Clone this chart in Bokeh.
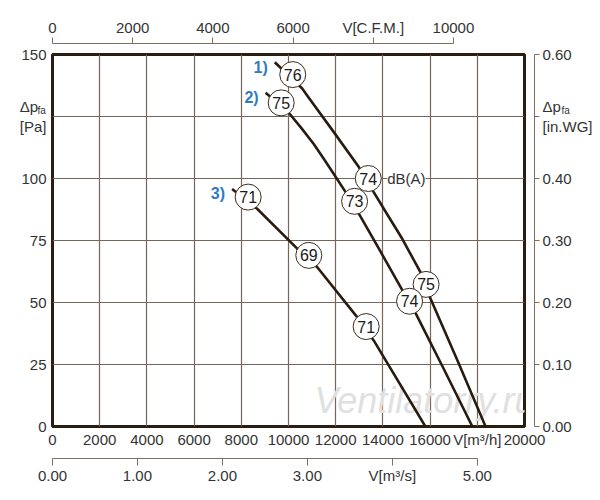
from bokeh.plotting import figure
from bokeh.models import LinearAxis, Range1d, FixedTicker, PrintfTickFormatter, Label
from bokeh.core.properties import value
from bokeh.embed import file_html
from bokeh.resources import INLINE

# ---------------- data ----------------
flow_ticks = [0, 2000, 4000, 6000, 8000, 10000, 12000, 14000, 16000, 18000, 20000]
pa_ticks = [0, 25, 50, 75, 100, 125, 150]
cfm_ticks = [0, 2000, 4000, 6000, 8000, 10000]
m3s_ticks = [0, 1, 2, 3, 4, 5]
inwg_ticks = [0.0, 0.1, 0.2, 0.3, 0.4, 0.5, 0.6]

# fan curves: flow [m3/h] vs static pressure [Pa]
curve1_q = [9420, 10580, 10790, 11920, 12980, 13610, 14200, 14820, 15590, 16020, 17160, 18350]
curve1_p = [146.9, 136.3, 133.5, 118.7, 104.6, 94.5, 85.3, 75.7, 62.2, 51.5, 26.6, 0.0]
curve2_q = [9030, 10010, 10530, 11070, 11500, 11920, 12420, 12980, 13860, 14750, 15380, 16570, 17790]
curve2_p = [134.6, 126.5, 120.5, 113.9, 107.9, 101.8, 94.5, 85.8, 71.2, 56.2, 45.8, 23.4, 0.0]
curve3_q = [7610, 8670, 10370, 11220, 12910, 13610, 15800]
curve3_p = [95.8, 87.8, 71.7, 64.2, 44.1, 34.7, 0.0]

# noise levels dB(A) marked on the curves
curve1_db_q = [10180, 13380, 15830]
curve1_db_p = [141.9, 100.0, 57.3]
curve1_db = ["76", "74", "75"]
curve2_db_q = [9690, 12800, 15130]
curve2_db_p = [130.5, 90.8, 50.5]
curve2_db = ["75", "73", "74"]
curve3_db_q = [8290, 10860, 13290]
curve3_db_p = [92.5, 69.0, 40.3]
curve3_db = ["71", "69", "71"]

curve_tags = ["1)", "2)", "3)"]

# ---------------- style ----------------
FONT = "Liberation Sans"
FRAME = "#2b1d10"
CURVE = "#2a1b0f"
GRID = "#74665a"
AXIS = "#7d6f62"
TEXT = "#333333"
BLUE = "#2e7bc4"

p = figure(width=596, height=492,
           x_range=Range1d(0, 20000), y_range=Range1d(0, 150),
           output_backend="svg", toolbar_location=None,
           min_border_left=52, min_border_right=72,
           min_border_top=54, min_border_bottom=66,
           background_fill_color="white", border_fill_color="white",
           outline_line_color=FRAME, outline_line_width=3)
p.title.visible = False

p.extra_x_ranges = {"cfm": Range1d(0, 20000 / 1.699),
                    "m3s": Range1d(0, 20000 / 3600)}
p.extra_y_ranges = {"inwg": Range1d(0, 0.6)}


def style_axis(ax, size="15px"):
    ax.major_label_text_font = FONT
    ax.major_label_text_font_size = size
    ax.major_label_text_color = TEXT
    ax.axis_line_color = AXIS
    ax.major_tick_line_color = AXIS
    ax.minor_tick_line_color = None
    ax.minor_tick_in = 0
    ax.minor_tick_out = 0
    ax.major_tick_in = 0


def spacer(size, tick, **kw):
    # invisible axis that only reserves `size` pixels between frame and next axis
    ax = LinearAxis(ticker=FixedTicker(ticks=[tick]), **kw)
    ax.axis_line_color = None
    ax.major_tick_line_color = None
    ax.minor_tick_line_color = None
    ax.major_tick_in = 0
    ax.major_tick_out = size
    ax.minor_tick_in = 0
    ax.minor_tick_out = 0
    ax.major_label_standoff = 0
    ax.major_label_text_font_size = "0px"
    ax.major_label_overrides = {tick: ""}
    return ax


# main bottom axis (m3/h)
xa = p.xaxis[0]
xa.ticker = FixedTicker(ticks=flow_ticks)
style_axis(xa)
xa.axis_line_color = None
xa.major_tick_out = 0
xa.major_label_standoff = 4
xa.major_label_overrides = {18000: "V[m³/h]"}

# main left axis (Pa)
ya = p.yaxis[0]
ya.ticker = FixedTicker(ticks=pa_ticks)
style_axis(ya)
ya.axis_line_color = None
ya.major_tick_out = 0
ya.major_label_standoff = 6
ya.major_label_overrides = {125: "Δp  \n[Pa]"}

p.xgrid[0].ticker = FixedTicker(ticks=flow_ticks)
p.ygrid[0].ticker = FixedTicker(ticks=pa_ticks)
p.xgrid.grid_line_color = GRID
p.ygrid.grid_line_color = GRID
p.xgrid.grid_line_width = 1.2
p.ygrid.grid_line_width = 1.2

# top axis (CFM)
p.add_layout(spacer(11, 10000), "above")
cfm_axis = LinearAxis(x_range_name="cfm", ticker=FixedTicker(ticks=cfm_ticks),
                      bounds=(0, 10000))
style_axis(cfm_axis)
cfm_axis.major_tick_out = 6
cfm_axis.major_label_standoff = 2
cfm_axis.major_label_overrides = {8000: "V[C.F.M.]"}
p.add_layout(cfm_axis, "above")

# second bottom axis (m3/s)
p.add_layout(spacer(8, 10000), "below")
m3s_axis = LinearAxis(x_range_name="m3s", ticker=FixedTicker(ticks=m3s_ticks),
                      bounds=(0, 5), formatter=PrintfTickFormatter(format="%.2f"))
style_axis(m3s_axis)
m3s_axis.major_tick_out = 7
m3s_axis.major_label_standoff = 1
m3s_axis.major_label_overrides = {4: "V[m³/s]"}
p.add_layout(m3s_axis, "below")

# right axis (in.WG)
p.add_layout(spacer(10, 75), "right")
inwg_axis = LinearAxis(y_range_name="inwg", ticker=FixedTicker(ticks=inwg_ticks),
                       bounds=(0, 0.6), formatter=PrintfTickFormatter(format="%.2f"))
style_axis(inwg_axis)
inwg_axis.major_tick_out = 5
inwg_axis.major_label_standoff = 3
inwg_axis.major_label_overrides = {0.5: "Δp\n[in.WG]"}
p.add_layout(inwg_axis, "right")

# watermark
p.text(x=[11100], y=[10.5], text=["Ventilatorry.ru"], text_font=value(FONT),
       text_font_style="italic", text_font_size="36px", text_color="#e0e0e0",
       text_align="left", text_baseline="alphabetic")

# curves
for q, pr in [(curve1_q, curve1_p), (curve2_q, curve2_p), (curve3_q, curve3_p)]:
    p.line(q, pr, line_color=CURVE, line_width=2.6, line_join="round")

# noise level circles
for q, pr, db in [(curve1_db_q, curve1_db_p, curve1_db),
                  (curve2_db_q, curve2_db_p, curve2_db),
                  (curve3_db_q, curve3_db_p, curve3_db)]:
    p.scatter(q, pr, marker="circle", size=26, fill_color="white",
              line_color="#3b2b1b", line_width=1)
    p.text(q, pr, text=db, text_font=value(FONT), text_font_size="16px",
           text_color="#1a1a1a", text_align="center", text_baseline="middle")

# curve tags
p.text([curve1_q[0], curve2_q[0], curve3_q[0]],
       [curve1_p[0], curve2_p[0], curve3_p[0]],
       text=curve_tags, text_font=value(FONT), text_font_style="bold",
       text_font_size="16px", text_color=BLUE, text_align="right",
       text_baseline="middle", x_offset=-7, y_offset=5)

# dB(A) label next to second circle of curve 1
p.add_layout(Label(x=curve1_db_q[1], y=curve1_db_p[1], text="dB(A)",
                   x_offset=19, text_font=FONT, text_font_size="15px",
                   text_color=TEXT, text_align="left", text_baseline="middle",
                   background_fill_color="white"))

# subscripts "fa" of the axis titles
p.add_layout(Label(x=0, y=125, text="fa", x_offset=-15, y_offset=6,
                   text_font=FONT, text_font_size="10px", text_color=TEXT,
                   text_align="left", text_baseline="middle"), "left")
p.add_layout(Label(x=20000, y=0.5, y_range_name="inwg", text="fa", x_offset=37, y_offset=6,
                   text_font=FONT, text_font_size="10px", text_color=TEXT,
                   text_align="left", text_baseline="middle"), "above")

open("out.html", "w").write(file_html(p, INLINE))
